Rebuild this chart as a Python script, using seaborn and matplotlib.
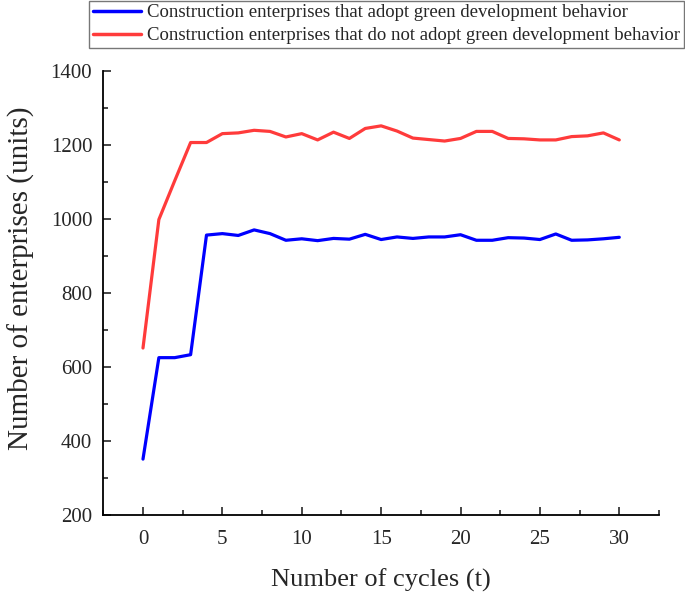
import numpy as np
import pandas as pd
import matplotlib
matplotlib.use("Agg")
import matplotlib.pyplot as plt
import seaborn as sns
from matplotlib.ticker import MultipleLocator

# data
cycles = list(range(31))
adopt = [351, 625, 625, 633, 956, 960, 955, 970, 960, 942,
         946, 941, 947, 945, 958, 944, 951, 947, 951, 951,
         957, 942, 942, 949, 948, 944, 959, 942, 943, 946, 950]
not_adopt = [651, 998, 1103, 1206, 1206, 1230, 1232, 1239, 1236, 1221,
             1230, 1213, 1234, 1217, 1244, 1251, 1237, 1218, 1214, 1210,
             1217, 1236, 1236, 1217, 1216, 1213, 1213, 1222, 1224, 1232, 1213]
series_names = ["Construction enterprises that adopt green development behavior",
                "Construction enterprises that do not adopt green development behavior"]
colors = ["#0000ff", "#ff3b3b"]

df = pd.DataFrame({"t": cycles * 2,
                   "n": adopt + not_adopt,
                   "s": [series_names[0]] * len(cycles) + [series_names[1]] * len(cycles)})

sns.set_style("ticks")
plt.rcParams["font.family"] = ["Liberation Serif", "DejaVu Serif"]

fig = plt.figure(figsize=(6.85, 5.93), dpi=100)
ax = fig.add_axes([0.1508, 0.1315, 0.962 - 0.1508, 0.8808 - 0.1315])

sns.lineplot(data=df, x="t", y="n", hue="s", palette=colors, linewidth=2.3,
             ax=ax, legend=False)

ax.set_xlim(-2.5, 32.5)
ax.set_ylim(200, 1400)
ax.xaxis.set_major_locator(MultipleLocator(5))
ax.xaxis.set_minor_locator(MultipleLocator(2.5))
ax.yaxis.set_major_locator(MultipleLocator(200))
ax.yaxis.set_minor_locator(MultipleLocator(100))
ax.tick_params(which="major", direction="in", length=6, width=1.2, labelsize=15)
ax.tick_params(axis="x", which="major", pad=11)
ax.tick_params(axis="y", which="major", pad=8)
ax.tick_params(which="minor", direction="in", length=3.5, width=1.2)
for side in ["top", "right"]:
    ax.spines[side].set_visible(False)
for side in ["left", "bottom"]:
    ax.spines[side].set_linewidth(1.3)
    ax.spines[side].set_color("black")

ax.set_xlabel("Number of cycles (t)", fontsize=19, labelpad=14)
ax.set_ylabel("Number of enterprises (units)", fontsize=21)
ax.yaxis.set_label_coords(-0.123, 0.533)

handles = [plt.Line2D([], [], color=c, linewidth=2.5) for c in colors]
leg = fig.legend(handles, series_names, loc="upper right",
                 bbox_to_anchor=(0.998, 0.999), fontsize=13.5, frameon=True,
                 fancybox=False, handlelength=2.6, handletextpad=0.3,
                 borderpad=0.2, labelspacing=0.3, borderaxespad=0.0)
leg.get_frame().set_edgecolor("#555555")
leg.get_frame().set_linewidth(1.0)

fig.savefig("out.png", dpi=100)
